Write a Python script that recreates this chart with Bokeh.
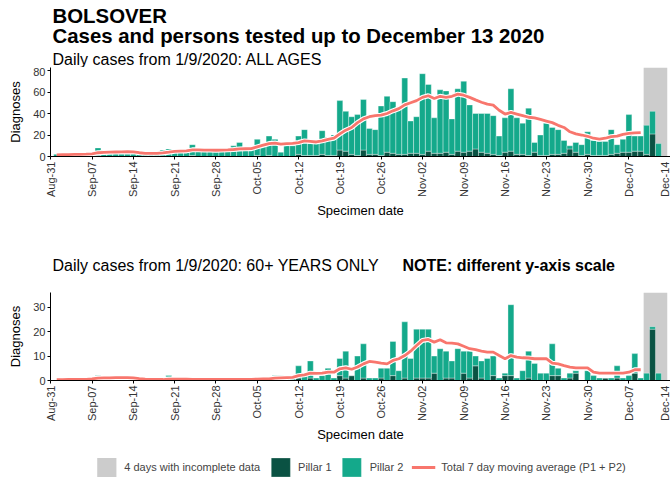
import numpy as np
import pandas as pd
from bokeh.plotting import figure
from bokeh.layouts import column
from bokeh.models import FixedTicker, Range1d, Legend, LegendItem, ColumnDataSource
from bokeh.core.properties import value
from bokeh.embed import file_html
from bokeh.resources import INLINE

# ---------------- data ----------------
start_date = "2020-09-01"
end_date = "2020-12-13"
ma_end_date = "2020-12-09"
incomplete_start = "2020-12-10"
incomplete_end = "2020-12-13"
origin_date = "2020-08-31"

tick_labels = ["Aug-31", "Sep-07", "Sep-14", "Sep-21", "Sep-28", "Oct-05", "Oct-12",
               "Oct-19", "Oct-26", "Nov-02", "Nov-09", "Nov-16", "Nov-23", "Nov-30",
               "Dec-07", "Dec-14"]

# All ages: total daily cases (P1 + P2), Sep 1 .. Dec 13
all_total = [2, 2, 1, 3, 2, 3, 2, 8, 6, 3, 4, 3, 4, 4, 3, 2, 2, 3, 6, 7, 4, 5, 5, 11, 6, 5, 5, 6, 6, 7,
             10, 13, 6, 6, 16, 11, 19, 16, 4, 10, 10, 19, 25, 12, 13, 24, 18, 20, 52, 42, 37, 39, 53, 26, 25, 47, 56, 51, 46, 73, 33,
             37, 77, 67, 36, 62, 61, 35, 63, 70, 48, 40, 40, 40, 38, 19, 36, 63, 36, 31, 45, 13, 20, 31, 27, 25, 15, 10, 13, 11, 23,
             15, 14, 14, 25, 11, 16, 39, 19, 19, 29, 42, 12, 0]
# All ages: pillar 1
all_p1 = [0, 0, 0, 0, 0, 0, 0, 1, 0, 0, 0, 0, 0, 0, 0, 0, 0, 0, 0, 0, 0, 0, 0, 1, 0, 0, 0, 0, 0, 0,
          0, 0, 0, 0, 1, 0, 1, 0, 0, 0, 0, 2, 1, 1, 1, 2, 1, 1, 6, 5, 2, 1, 6, 2, 2, 1, 4, 3, 2, 2, 3,
          3, 2, 5, 3, 3, 4, 2, 5, 4, 5, 7, 4, 3, 2, 1, 4, 5, 2, 2, 1, 4, 1, 1, 2, 2, 3, 7, 4, 1, 2,
          1, 1, 1, 2, 3, 4, 4, 5, 5, 2, 21, 0, 0]
# All ages: 7 day moving average, Sep 1 .. Dec 9
all_ma = [1.5, 1.7, 1.8, 2.0, 2.0, 2.2, 2.5, 3.5, 3.8, 4.0, 4.2, 4.3, 4.4, 4.3, 3.5, 3.0, 3.0, 3.0, 3.3, 4.0,
          4.8, 5.0, 5.2, 6.2, 6.2, 6.0, 6.0, 5.8, 6.0, 6.2,
          6.5, 7.0, 7.2, 7.3, 9.0, 10.5, 12.0, 12.5, 11.5, 12.0, 12.3, 13.0, 14.5, 14.0, 13.5, 14.5, 16.0, 17.0,
          21.0, 24.5, 27.0, 31.5, 35.0, 37.0, 38.0, 38.5, 40.0, 42.5, 44.5, 48.0, 50.0,
          52.0, 55.0, 56.5, 54.0, 56.0, 55.0, 56.0, 58.0, 57.0, 55.0, 52.7, 50.5, 48.7, 47.8, 43.0, 39.5, 41.0,
          39.5, 38.0, 36.5, 36.0, 34.5, 33.0, 31.5, 29.0, 27.0, 23.0, 21.0, 20.0, 18.8,
          17.0, 16.2, 17.0, 18.5, 19.0, 20.5, 21.5, 22.0, 22.3]

# 60+ years: total daily cases
old_total = [0, 0, 0, 0, 0, 0, 1, 2, 1, 1, 1, 1, 1, 1, 0, 0, 0, 0, 0, 2, 0, 0, 0, 0, 0, 1, 0, 0, 0, 0,
             0, 1, 0, 0, 1, 1, 0, 2, 2, 1, 1, 6, 2, 8, 1, 2, 5, 1, 9, 12, 2, 10, 15, 1, 1, 5, 5, 16, 4, 24, 9,
             21, 21, 21, 10, 13, 12, 8, 13, 12, 12, 10, 8, 9, 10, 1, 3, 31, 1, 4, 12, 7, 3, 3, 15, 5, 1, 3, 4, 0, 4,
             2, 1, 1, 1, 6, 1, 2, 11, 1, 3, 22, 3, 0]
# 60+ years: pillar 1
old_p1 = [0, 0, 0, 0, 0, 0, 0, 0, 0, 0, 0, 0, 0, 0, 0, 0, 0, 0, 0, 0, 0, 0, 0, 0, 0, 0, 0, 0, 0, 0,
          0, 0, 0, 0, 0, 0, 0, 0, 0, 0, 0, 1, 0, 1, 0, 0, 0, 0, 2, 1, 2, 0, 1, 0, 0, 1, 0, 2, 0, 1, 0,
          1, 1, 1, 3, 0, 1, 1, 0, 3, 1, 6, 1, 0, 2, 0, 2, 2, 0, 0, 1, 0, 0, 0, 2, 2, 0, 1, 3, 0, 0,
          0, 0, 1, 0, 1, 0, 0, 3, 0, 0, 21, 0, 0]
# 60+ years: 7 day moving average, Sep 1 .. Dec 9
old_ma = [0.3, 0.3, 0.4, 0.4, 0.4, 0.5, 0.7, 1.0, 1.1, 1.1, 1.2, 1.2, 1.2, 1.1, 0.8, 0.6, 0.5, 0.4, 0.4, 0.6,
          0.6, 0.6, 0.6, 0.5, 0.5, 0.4, 0.4, 0.4, 0.4, 0.4,
          0.5, 0.5, 0.5, 0.5, 0.6, 0.7, 0.7, 1.0, 1.1, 1.2, 1.3, 2.0, 2.3, 3.0, 2.9, 3.0, 3.4, 3.4,
          4.8, 5.2, 4.6, 5.5, 6.8, 7.8, 7.5, 7.1, 6.8, 8.2, 8.9, 10.2, 12.0,
          14.3, 16.4, 16.8, 15.7, 16.7, 15.4, 15.3, 15.0, 14.0, 13.0, 12.6, 12.0, 11.6, 11.6, 10.2, 8.9, 10.2,
          9.6, 9.3, 9.2, 8.9, 8.9, 8.9, 7.1, 6.8, 6.1, 5.5, 5.2, 5.2, 5.2,
          3.4, 3.0, 3.0, 3.0, 3.0, 3.0, 3.4, 4.4, 4.4]

all_yticks = [0, 20, 40, 60, 80]
old_yticks = [0, 10, 20, 30]

# ---------------- styling ----------------
FONT = "Liberation Sans"
GREEN = "#14A98B"
DARK = "#0A5243"
RED = "#F8766D"
GREY = "#CCCCCC"
W = 670
LB = 50          # left border (frame starts here)
FW = W - LB      # frame width
X0, X1 = -0.05, 105.05

origin = pd.Timestamp(origin_date)
dates = pd.date_range(start_date, end_date)
day = [(d - origin).days for d in dates]
ma_day = [(d - origin).days for d in pd.date_range(start_date, ma_end_date)]
tick_days = [7 * i for i in range(len(tick_labels))]
inc_left = (pd.Timestamp(incomplete_start) - origin).days - 0.5
inc_right = (pd.Timestamp(incomplete_end) - origin).days + 0.5


def blank(h, x_range=None, y_range=None):
    f = figure(width=W, height=h,
               x_range=x_range if x_range is not None else Range1d(0, FW),
               y_range=y_range if y_range is not None else Range1d(0, h),
               output_backend="svg", toolbar_location=None, min_border=0,
               min_border_left=LB, x_axis_location=None, y_axis_location=None)
    f.grid.visible = False
    f.outline_line_color = None
    return f


def header(h, texts):
    f = blank(h)
    for (t, x, y_from_top, size, style) in texts:
        f.text(x=[x], y=[h - y_from_top], text=[t], text_font=value(FONT), text_font_size=size,
               text_font_style=style, text_color="black", text_baseline="middle",
               text_align="left")
    return f


def draw_series(p, src, ma_src, ymax):
    g = p.quad(left=[inc_left], right=[inc_right], bottom=[0], top=[ymax],
               fill_color=GREY, line_color=None)
    b1 = p.vbar(x="day", width=1, top="p1", bottom=0, fill_color=DARK,
                line_color="white", line_width=0.5, line_alpha=0.7, source=src)
    b2 = p.vbar(x="day", width=1, top="total", bottom="p1", fill_color=GREEN,
                line_color="white", line_width=0.5, line_alpha=0.7, source=src)
    p.line(x="day", y="ma", source=ma_src, line_color="white", line_width=5)
    ln = p.line(x="day", y="ma", source=ma_src, line_color=RED, line_width=2.8)
    return g, b1, b2, ln


def panel(src, ma_src, ymax, yticks, frame_h, bottom_border):
    p = figure(width=W, height=frame_h + bottom_border, x_range=Range1d(X0, X1),
               y_range=Range1d(0, ymax), output_backend="svg", toolbar_location=None,
               min_border_left=LB, min_border_right=0, min_border_top=0,
               min_border_bottom=bottom_border)
    p.outline_line_color = None
    p.grid.visible = False
    draw_series(p, src, ma_src, ymax)

    for ax in (p.xaxis[0], p.yaxis[0]):
        ax.axis_line_color = "black"
        ax.axis_line_width = 1
        ax.major_tick_line_color = "black"
        ax.major_tick_out = 3
        ax.major_tick_in = 0
        ax.minor_tick_line_color = None
        ax.major_label_text_font = FONT
        ax.major_label_text_font_size = "11px"
        ax.major_label_text_color = "#333333"
        ax.major_label_standoff = 2
        ax.axis_label_text_font = FONT
        ax.axis_label_text_font_size = "13px"
        ax.axis_label_text_font_style = "normal"
        ax.axis_label_text_color = "black"
    p.xaxis.ticker = FixedTicker(ticks=tick_days)
    p.xaxis.major_label_overrides = {d: l for d, l in zip(tick_days, tick_labels)}
    p.xaxis.major_label_orientation = np.pi / 2
    p.xaxis.axis_label = "Specimen date"
    p.xaxis.axis_label_standoff = 3
    p.yaxis.ticker = FixedTicker(ticks=yticks)
    p.yaxis.axis_label = "Diagnoses"
    p.yaxis.axis_label_standoff = 7
    return p


all_src = ColumnDataSource(dict(day=day, total=all_total, p1=all_p1))
all_ma_src = ColumnDataSource(dict(day=ma_day, ma=all_ma))
old_src = ColumnDataSource(dict(day=day, total=old_total, p1=old_p1))
old_ma_src = ColumnDataSource(dict(day=ma_day, ma=old_ma))

head1 = header(67, [
    ("BOLSOVER", 2, 15, "20.4px", "bold"),
    ("Cases and persons tested up to December 13 2020", 2, 35, "20.4px", "bold"),
    ("Daily cases from 1/9/2020: ALL AGES", 2, 58.5, "16px", "normal"),
])
top = panel(all_src, all_ma_src, 82.8, all_yticks, 89, 70)

head2 = header(66, [
    ("Daily cases from 1/9/2020: 60+ YEARS ONLY", 2, 38.5, "16px", "normal"),
    ("NOTE: different y-axis scale", 352, 38.5, "16px", "bold"),
])
bot = panel(old_src, old_ma_src, 36.0, old_yticks, 88, 70)

# legend strip: same series drawn on ranges that keep them out of view,
# so that only the legend swatches show
leg = blank(33, x_range=Range1d(X0, X1), y_range=Range1d(1000, 1001))
r_grey, r_p1, r_p2, r_ma = draw_series(leg, old_src, old_ma_src, 36.0)
legend = Legend(items=[
    LegendItem(label="4 days with incomplete data", renderers=[r_grey]),
    LegendItem(label="Pillar 1", renderers=[r_p1]),
    LegendItem(label="Pillar 2", renderers=[r_p2]),
    LegendItem(label="Total 7 day moving average (P1 + P2)", renderers=[r_ma]),
], orientation="horizontal", location="center", glyph_width=24, glyph_height=24,
    label_text_font=FONT, label_text_font_size="11px", spacing=8, label_standoff=6,
    border_line_color=None, background_fill_alpha=0, padding=0, margin=0)
leg.add_layout(legend, "center")

layout = column(head1, top, head2, bot, leg, spacing=0)
open("out.html", "w").write(file_html(layout, INLINE))
